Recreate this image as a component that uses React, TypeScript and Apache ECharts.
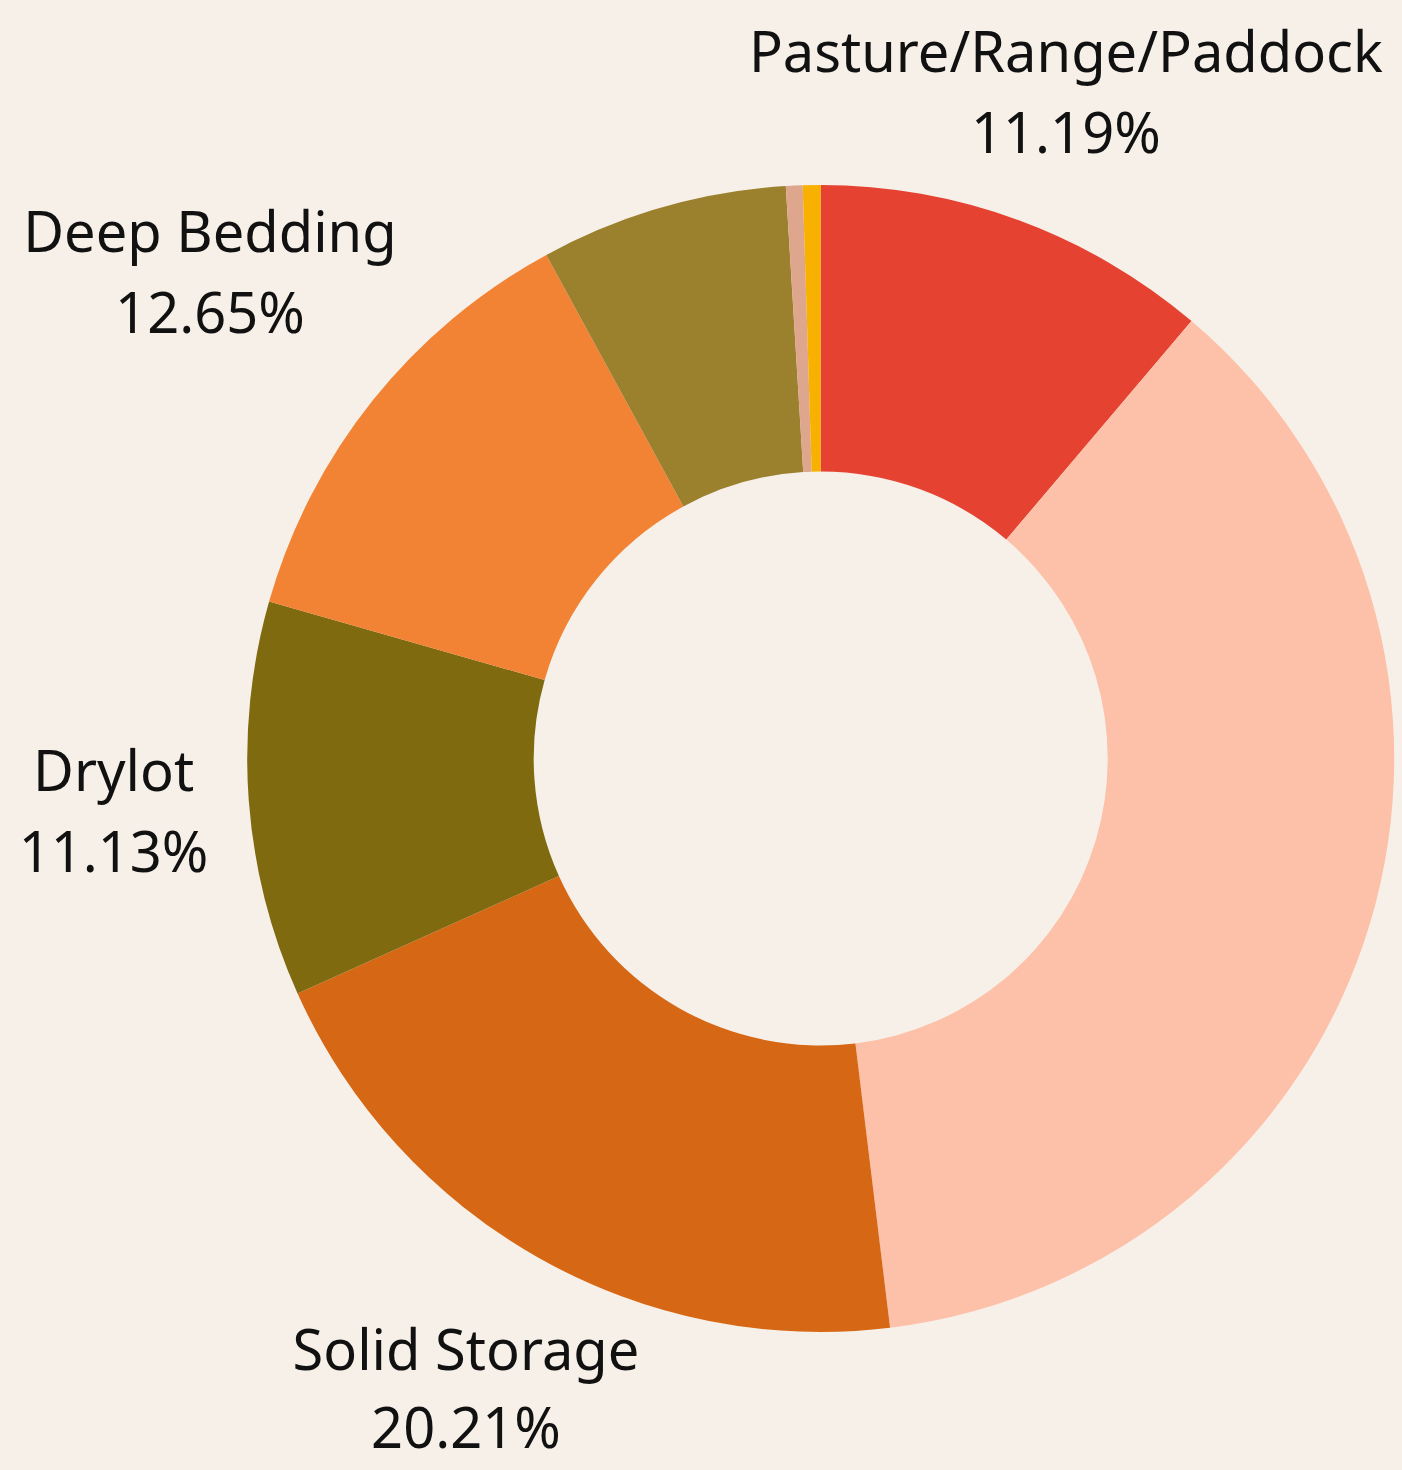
import React, { useEffect, useRef } from "react";
import * as echarts from "echarts";

// ---- data (percent shares, clockwise from 12 o'clock) ----
const categories = [
  "Pasture/Range/Paddock",
  "Liquid/Slurry",
  "Solid Storage",
  "Drylot",
  "Deep Bedding",
  "Anaerobic Lagoon",
  "Daily Spread",
  "Digester",
];
const shares = [11.19, 36.88, 20.21, 11.13, 12.65, 6.97, 0.47, 0.5];
const showLabel = [true, false, true, true, true, false, false, false];

// ---- styles ----
const sliceColors = [
  "#e54232",
  "#fdc0a8",
  "#d66815",
  "#806a10",
  "#f28334",
  "#9b812e",
  "#dfa68e",
  "#f8b100",
];
const labelDistance = [709, 0, 719, 706, 779, 0, 0, 0];
// line heights of name / value rows (bottom label uses a short value row so it stays inside the page)
const nameLineHeight = [81, 81, 106, 81, 81, 81, 81, 81];
const valueLineHeight = [81, 81, 50, 81, 81, 81, 81, 81];
const BG = "#f7f0e9";
const CX = 820.7;
const CY = 758.5;
const R_OUT = 573.5;
const R_IN = 287;
const LABEL_BASE = 720;
const FONT = "'Noto Sans', sans-serif";

export default function App() {
  const ref = useRef<HTMLDivElement>(null);
  useEffect(() => {
    if (!ref.current) return;
    const chart = echarts.init(ref.current, undefined, { renderer: "svg" });
    const total = shares.reduce((a, b) => a + b, 0);
    let cum = 0;
    const overlayData = categories.map((name, i) => {
      const mid = ((cum + shares[i] / 2) / total) * 2 * Math.PI;
      cum += shares[i];
      const extra = labelDistance[i] - LABEL_BASE;
      const nudgeY = -(nameLineHeight[i] - valueLineHeight[i]) / 4;
      return {
        name,
        value: shares[i],
        label: {
          show: showLabel[i],
          offset: [extra * Math.sin(mid), -extra * Math.cos(mid) + nudgeY],
          rich: {
            n: { fontFamily: FONT, fontSize: 56, lineHeight: nameLineHeight[i], color: "#111111" },
            v: { fontFamily: FONT, fontSize: 56, lineHeight: valueLineHeight[i], color: "#111111" },
          },
        },
      };
    });
    chart.setOption({
      animation: false,
      backgroundColor: BG,
      series: [
        {
          type: "pie",
          center: [CX, CY],
          radius: [R_IN, R_OUT],
          startAngle: 90,
          clockwise: true,
          silent: true,
          label: { show: false },
          labelLine: { show: false },
          data: categories.map((name, i) => ({
            name,
            value: shares[i],
            itemStyle: { color: sliceColors[i] },
          })),
        },
        {
          type: "pie",
          center: [CX, CY],
          radius: [LABEL_BASE - 1, LABEL_BASE + 1],
          startAngle: 90,
          clockwise: true,
          silent: true,
          itemStyle: { color: "rgba(0,0,0,0)" },
          labelLine: { show: false },
          label: {
            position: "inside",
            formatter: (p: any) => `{n|${p.name}}\n{v|${Number(p.value).toFixed(2)}%}`,
            fontFamily: FONT,
            fontSize: 56,
            color: "#111111",
            align: "center",
            verticalAlign: "middle",
          },
          data: overlayData,
        },
      ],
    });
    return () => chart.dispose();
  }, []);
  return (
    <div
      ref={ref}
      style={{ position: "absolute", left: 0, top: 0, width: 1402, height: 1470, background: BG }}
    />
  );
}
